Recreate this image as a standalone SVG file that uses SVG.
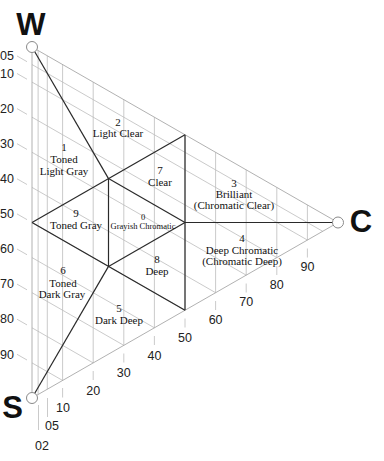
<svg xmlns="http://www.w3.org/2000/svg" width="384" height="461" viewBox="0 0 384 461">
<style>
.g{stroke:#bdbdbd;stroke-width:0.8;fill:none}
.e{stroke:#a8a8a8;stroke-width:0.9;fill:none}
.k{stroke:#2a2a2a;stroke-width:1.2;fill:none}
.t{stroke:#bdbdbd;stroke-width:0.8}
.n{font-family:"Liberation Sans",Arial,sans-serif;font-size:12.5px;fill:#222}
.r{font-family:"Liberation Serif","Times New Roman",serif;font-size:11px;fill:#111;text-anchor:middle}
.s{font-family:"Liberation Serif","Times New Roman",serif;font-size:8.5px;fill:#111;text-anchor:middle}
.big{font-family:"Liberation Sans",Arial,sans-serif;font-size:31px;font-weight:bold;fill:#111;text-anchor:middle}
.v{fill:#fff;stroke:#8a8a8a;stroke-width:1}
</style>
<g id="grid">
<path class="g" d="M32 64.55L322.7 231.3M32 82.1L307.4 240.05M32 117.2L276.8 257.6M32 152.3L246.2 275.15M32 187.4L215.6 292.7M32 222.5L185 310.25M32 257.6L154.4 327.8M32 292.7L123.8 345.35M32 327.8L93.2 362.9M32 362.9L62.6 380.45"/>
<path class="g" d="M38.12 50.5V394.5M47.3 55.8V389.2M62.6 64.55V380.45M93.2 82.1V362.9M123.8 99.65V345.35M154.4 117.2V327.8M185 134.75V310.25M215.6 152.3V292.7M246.2 169.85V275.15M276.8 187.4V257.6M307.4 204.95V240.05"/>
<path class="e" d="M32 47L338 222.5L32 398Z"/>
</g>
<g id="ticks">
<path class="t" d="M17 55.95L27 61.68M17 73.5L27 79.23M17 108.6L27 114.33M17 143.7L27 149.43M17 178.8L27 184.53M17 213.9L27 219.63M17 249L27 254.73M17 284.1L27 289.83M17 319.2L27 324.93M17 354.3L27 360.03"/>
<path class="t" d="M38.5 405V430M47.5 398V417M62.6 388V397.5M93.2 371V380M123.8 353.5V362.5M154.4 336V345M185 318.5V327.5M215.6 301V310M246.2 283.5V292.5M276.8 266V275M307.4 248.5V257.5"/>
</g>
<g id="scale-labels">
<text class="n" x="0" y="60">05</text>
<text class="n" x="0" y="77.5">10</text>
<text class="n" x="0" y="112.5">20</text>
<text class="n" x="0" y="147.5">30</text>
<text class="n" x="0" y="182.5">40</text>
<text class="n" x="0" y="218">50</text>
<text class="n" x="0" y="253">60</text>
<text class="n" x="0" y="288">70</text>
<text class="n" x="0" y="323">80</text>
<text class="n" x="0" y="358.5">90</text>
<g text-anchor="middle">
<text class="n" x="42" y="449.5">02</text>
<text class="n" x="52" y="429.5">05</text>
<text class="n" x="63" y="411.5">10</text>
<text class="n" x="93.2" y="394.5">20</text>
<text class="n" x="123.8" y="377">30</text>
<text class="n" x="154.4" y="359.5">40</text>
<text class="n" x="185" y="342">50</text>
<text class="n" x="215.6" y="323.5">60</text>
<text class="n" x="246.2" y="306">70</text>
<text class="n" x="276.8" y="288.5">80</text>
<text class="n" x="307.4" y="270.5">90</text>
</g>
</g>
<g id="connectors">
<path class="k" d="M32 47L108.5 178.6"/>
<path class="k" d="M32 222.5L185 134.75"/>
<path class="k" d="M108.5 178.6V266.4"/>
<path class="k" d="M108.5 178.6L185 222.5"/>
<path class="k" d="M32 222.5L185 310.25"/>
<path class="k" d="M108.5 266.4L185 222.5"/>
<path class="k" d="M108.5 266.4L32 398"/>
<path class="k" d="M185 134.75V310.25"/>
<path class="k" d="M185 222.5H338"/>
</g>
<g id="node-W"><circle class="v" cx="32" cy="47" r="5.5"/><text class="big" x="31" y="35">W</text></g>
<g id="node-S"><circle class="v" cx="32" cy="398" r="5.5"/><text class="big" x="12.5" y="418">S</text></g>
<g id="node-C"><circle class="v" cx="338" cy="222.5" r="5.5"/><text class="big" x="361" y="232">C</text></g>
<g id="region-1"><text class="r" x="64" y="151">1</text><text class="r" x="64" y="162.5">Toned</text><text class="r" x="64" y="174.5">Light Gray</text></g>
<g id="region-2"><text class="r" x="118" y="126">2</text><text class="r" x="118" y="137">Light Clear</text></g>
<g id="region-7"><text class="r" x="160" y="174">7</text><text class="r" x="160" y="186">Clear</text></g>
<g id="region-3"><text class="r" x="234" y="187">3</text><text class="r" x="234" y="197.5">Brilliant</text><text class="r" x="234" y="209">(Chromatic Clear)</text></g>
<g id="region-9"><text class="r" x="76" y="217">9</text><text class="r" x="76" y="229">Toned Gray</text></g>
<g id="region-0"><text class="s" x="143" y="219.5">0</text><text class="s" x="143" y="228.5">Grayish Chromatic</text></g>
<g id="region-4"><text class="r" x="242" y="242">4</text><text class="r" x="242" y="253.5">Deep Chromatic</text><text class="r" x="242" y="264.5">(Chromatic Deep)</text></g>
<g id="region-8"><text class="r" x="157" y="263">8</text><text class="r" x="157" y="275">Deep</text></g>
<g id="region-6"><text class="r" x="63" y="274">6</text><text class="r" x="63" y="286.5">Toned</text><text class="r" x="62" y="298">Dark Gray</text></g>
<g id="region-5"><text class="r" x="119" y="312">5</text><text class="r" x="119" y="324">Dark Deep</text></g>
</svg>
